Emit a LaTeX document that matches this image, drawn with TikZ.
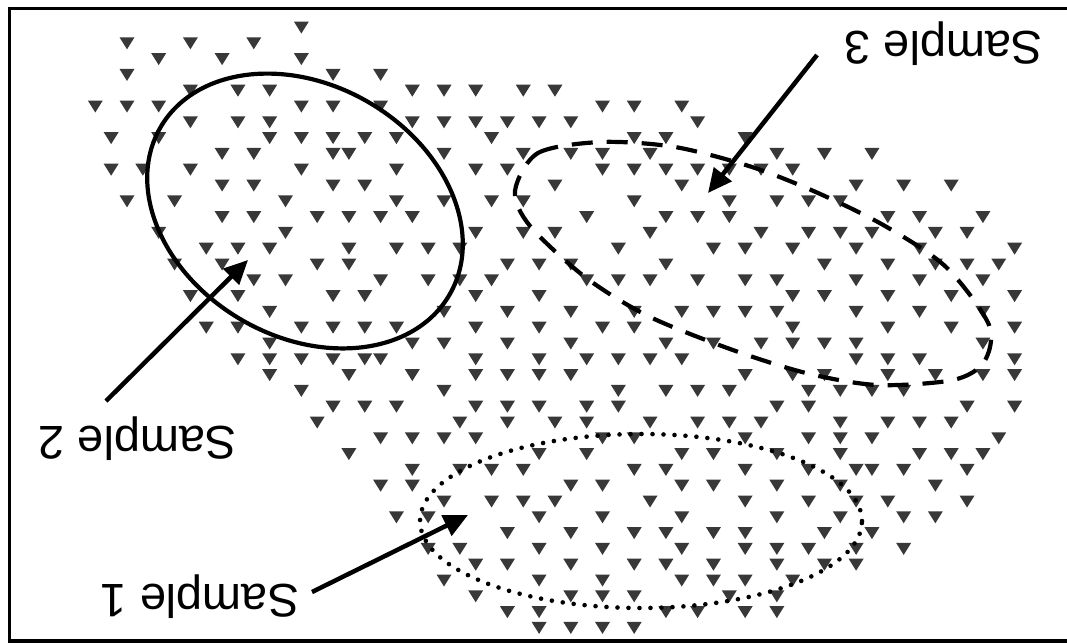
\documentclass[tikz,border=0pt]{standalone}
\usepackage{fontspec}
\setmainfont{Liberation Sans}
\usetikzlibrary{arrows.meta}
\begin{document}
\begin{tikzpicture}[x=1pt,y=-1pt,
  tri/.style={fill=black!78},
  frame/.style={line width=3.8pt},
  ring/.style={line width=4.2pt},
  dotring/.style={line width=4.6pt, line cap=round, dash pattern=on 0pt off 11pt},
  dashring/.style={line width=4.2pt, dash pattern=on 21pt off 14pt},
  pointer/.style={line width=4.5pt, -{Triangle[length=24pt,width=22pt]}},
  lab/.style={rotate=180, anchor=base, inner sep=0pt, font=\fontsize{47}{52}\selectfont}]
\useasboundingbox (0,0) rectangle (1067,643);
\fill[white] (0,0) rectangle (1067,643);
\draw[frame] (1067,8.5) -- (9.5,8.5) -- (9.5,641) -- (1067,641);
% triangles on a lattice
\foreach \j/\row in {
0/{11},
1/{0,4,8},
2/{2,6,11},
3/{0,13,16},
4/{4,7,9,18,20,22,25,27},
5/{-2,0,2,11,13,16,30,32,35},
6/{4,7,9,18,20,22,24,26,28,36},
7/{-1,2,9,11,13,15,17,23,32,34,39},
8/{6,8,13,14,20,25,28,30,33,41,44,47},
9/{-1,1,4,11,17,22,24,30,32,34,36,38,40,42},
10/{6,8,13,15,27,35,46,49,52},
11/{0,3,10,17,20,23,25,32,38,41,43,45},
12/{6,8,12,14,16,18,29,34,36,38,48,50,54},
13/{2,10,22,25,27,33,40,43,45,47,51,53},
14/{5,7,9,14,17,19,21,31,37,39,42,46,50,56},
15/{3,6,12,14,24,26,28,34,44,48,51,53,55},
16/{8,10,16,19,21,23,29,31,33,36,39,41,46,50,54},
17/{4,7,13,15,22,26,42,44,48,52,56},
18/{9,20,24,28,32,35,37,39,41,46,50,54},
19/{5,7,11,13,15,17,22,26,30,32,42,48,52,56},
20/{9,18,20,24,28,34,37,40,42,44,46,54},
21/{7,9,11,13,15,16,22,26,29,31,33,35,46,48,50,56},
22/{9,14,18,22,24,26,28,39,42,44,48,51,54,56},
23/{11,20,31,34,36,38,43,45,47,49},
24/{13,15,17,22,24,26,29,31,41,43,53,56},
25/{12,21,24,27,29,33,36,38,40,45,48,50,52},
26/{16,18,20,22,30,32,39,43,45,47,55},
27/{14,26,29,35,37,41,45,50,52,54},
28/{18,21,23,25,32,34,39,43,46,47,49,53},
29/{16,18,28,30,35,37,41,45,51},
30/{20,23,25,27,33,39,43,46,48,53},
31/{17,19,26,30,35,41,45,49,51},
32/{24,28,32,34,37,39,44,47},
33/{19,21,26,30,35,39,41,43,46,49},
34/{22,24,28,32,34,37,41,44,46},
35/{20,26,30,35,37,39,42},
36/{22,28,30,32,38,41},
37/{24,26,34,36,39,41},
38/{26,28,30,32}}{
  \foreach \i in \row {
    \fill[tri] ({127+15.85*(\i)-7.5},{27+15.8*(\j)-5.5}) -- ++(15,0) -- ++(-7.5,12) -- cycle;
  }
}
% Sample 2 (solid)
\draw[ring, rotate around={-30:(305,211)}] (305,211) ellipse [x radius=167pt, y radius=126pt];
% Sample 3 (dashed)
\draw[dashring] plot[smooth cycle] coordinates {(515,191) (538,153) (601,142) (675,147) (752,167) (818,193) (885,226) (946,267) (989,325) (984,362) (953,380) (877,385) (806,373) (730,349) (648,316) (585,277) (530,226)};
% Sample 1 (dotted)
\draw[dotring] (641,521) ellipse [x radius=221pt, y radius=87pt];
% labels
\node[lab] (s3) at (943.5,31) {Sample 3};
\node[lab] (s2) at (137.5,426) {Sample 2};
\node[lab] (s1) at (200,584) {Sample 1};
% arrows
\coordinate (a3s) at (817,55);  \coordinate (a3e) at (708,193);
\coordinate (a2s) at (106,401); \coordinate (a2e) at (248,260);
\coordinate (a1s) at (312,592); \coordinate (a1e) at (468,515);
\draw[pointer] (a3s) -- (a3e);
\draw[pointer] (a2s) -- (a2e);
\draw[pointer] (a1s) -- (a1e);
\end{tikzpicture}
\end{document}
